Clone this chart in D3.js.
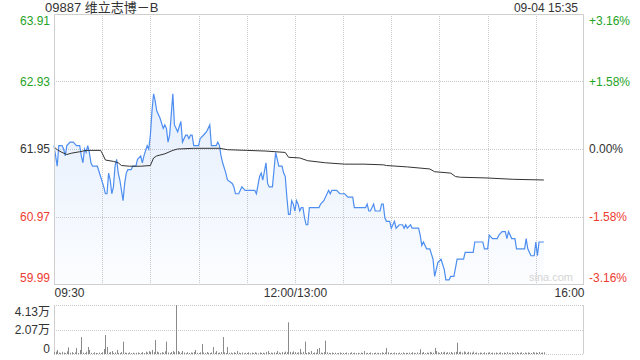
<!DOCTYPE html>
<html>
<head>
<meta charset="utf-8">
<script src="https://cdn.jsdelivr.net/npm/d3@7"></script>
<style>
body { margin: 0; background: #fff; }
svg text { font-family: "Liberation Sans Narrow", "Arial Narrow", "Liberation Sans", Arial, "Noto Sans CJK SC", sans-serif; font-size: 12px; }
</style>
</head>
<body>
<svg id="chart" width="640" height="360"></svg>
<script>
var title = "09887 维立志博－B";
var stamp = "09-04 15:35";
var prevClose = 61.95;
var priceTicks = [59.99, 60.97, 61.95, 62.93, 63.91];
var pctTicks = ["-3.16%", "-1.58%", "0.00%", "+1.58%", "+3.16%"];
var timeLabels = ["09:30", "12:00/13:00", "16:00"];
var timeLabelMin = [0, 150, 330];
var volTicks = [0, 20.65, 41.3];            // thousand shares
var volTickLabels = ["0", "2.07万", "4.13万"];

// minutes since 09:30 with the lunch break removed (150 = 12:00/13:00)
var priceMin = [0,2,3,5,6,7,8,10,12,14,
    16,17,18,19,20,21,22,23,24,27,
    29,31,32,33,34,35,36,37,38,39,
    40,41,43,44,45,46,48,49,51,52,
    54,55,56,58,59,60,61,62,63,64,
    66,68,69,70,71,72,74,75,77,79,
    80,82,83,84,85,86,87,90,91,93,
    95,97,98,101,102,103,104,105,107,108,
    111,112,113,115,116,117,119,123,125,126,
    128,129,130,132,133,134,136,138,140,142,
    143,144,145,146,147,148,149,150,151,152,
    153,154,155,156,157,158,159,165,166,168,
    169,170,171,172,173,176,178,181,183,186,
    187,194,195,196,197,199,200,203,204,205,
    206,207,209,210,211,212,213,215,217,218,
    219,220,222,223,224,227,228,229,230,232,
    234,236,237,239,241,243,244,246,247,249,
    251,255,256,261,262,267,268,270,271,273,
    276,277,279,281,282,283,285,287,288,293,
    294,295,297,299,300,301,302,305];
var price = [62.00,61.70,62.00,62.00,61.95,61.85,62.00,62.05,62.05,62.00,
    62.00,61.85,61.75,61.95,61.90,62.00,61.90,61.75,61.70,61.70,
    61.55,61.40,61.30,61.30,61.60,61.50,61.30,61.40,61.70,61.80,
    61.60,61.50,61.20,61.45,61.60,61.65,61.65,61.70,61.70,61.80,
    61.85,61.75,61.85,62.00,61.95,62.15,62.50,62.75,62.65,62.50,
    62.40,62.25,62.30,62.25,62.05,62.15,62.75,62.30,62.20,62.35,
    62.05,62.15,62.15,62.10,62.15,62.15,62.00,62.00,62.10,62.15,
    62.20,62.30,62.00,62.00,62.05,62.00,61.85,61.75,61.60,61.50,
    61.45,61.40,61.30,61.30,61.35,61.40,61.35,61.35,61.35,61.30,
    61.55,61.60,61.50,61.75,61.45,61.40,61.40,61.90,61.70,61.70,
    61.60,61.55,61.25,61.00,61.00,61.20,61.15,61.05,61.20,61.15,
    61.05,61.10,61.10,60.95,60.85,60.85,61.10,61.10,61.15,61.20,
    61.25,61.30,61.35,61.30,61.35,61.35,61.30,61.30,61.25,61.25,
    61.10,61.10,61.15,61.05,61.05,61.15,61.05,61.05,61.15,61.15,
    60.95,60.90,60.90,60.80,60.85,60.90,60.80,60.85,60.85,60.80,
    60.85,60.80,60.85,60.80,60.80,60.80,60.70,60.55,60.60,60.50,
    60.50,60.35,60.10,60.30,60.35,60.20,60.05,60.05,60.10,60.10,
    60.35,60.35,60.45,60.45,60.60,60.60,60.50,60.50,60.70,60.65,
    60.65,60.70,60.75,60.75,60.65,60.75,60.65,60.65,60.50,60.50,
    60.65,60.50,60.40,60.40,60.60,60.40,60.60,60.60];

// average price line
var avgMin = [0,2,5,8,11,16,20,29,30,32,
    37,40,42,47,54,60,62,64,69,74,
    77,87,99,103,108,120,132,144,146,153,
    158,169,181,193,205,207,220,234,237,247,
    250,253,269,286,305];
var avgPrice = [61.98,61.94,61.90,61.87,61.89,61.91,61.93,61.93,61.89,61.79,
    61.77,61.75,61.71,61.70,61.70,61.71,61.82,61.85,61.88,61.93,
    61.95,61.96,61.96,61.96,61.94,61.93,61.92,61.90,61.83,61.82,
    61.78,61.75,61.73,61.73,61.72,61.71,61.69,61.66,61.62,61.60,
    61.55,61.54,61.53,61.51,61.50];

// volume per minute (index = minute), thousand shares
var volume = [1.5,2.0,3.4,1.2,0.9,1.8,1.1,0.8,2.2,5.6,
    1.0,1.6,0.7,1.3,5.1,0.9,3.4,14.3,1.2,0.8,
    1.9,5.9,3.4,1.0,0.6,1.4,0.9,0.7,1.2,0.8,
    1.5,4.2,16.0,5.9,1.1,1.7,2.5,0.9,1.3,3.4,
    1.0,0.8,1.6,10.4,1.2,0.9,0.7,1.4,0.8,1.1,
    0.6,1.0,1.3,0.7,0.9,1.5,0.8,2.0,1.2,2.4,
    1.8,3.4,1.5,11.8,2.0,1.4,0.9,1.6,1.1,2.2,
    10.4,1.3,0.8,1.7,2.5,1.5,41.3,2.5,1.6,1.0,
    2.5,1.2,0.7,1.5,0.9,1.3,1.1,1.8,3.4,1.0,
    0.8,1.4,8.4,1.2,0.9,1.7,1.0,0.8,1.3,5.9,
    1.1,2.5,0.9,1.2,1.6,14.3,1.4,0.8,5.9,1.0,
    1.2,0.7,1.5,0.9,2.5,1.1,0.8,1.3,0.6,1.0,
    0.9,1.4,0.7,1.2,0.8,1.5,1.0,0.6,1.3,0.9,
    1.1,0.7,1.6,2.5,0.8,1.2,0.9,1.4,1.0,2.5,
    1.3,0.8,1.7,1.1,2.0,1.5,26.7,1.8,1.2,2.2,
    1.6,1.0,1.4,4.2,1.1,1.8,10.4,0.9,1.5,1.2,
    2.5,0.8,1.3,1.0,4.2,5.1,1.2,0.9,1.6,11.2,
    1.4,1.0,0.7,1.2,0.8,1.1,0.6,0.9,1.3,0.7,
    1.0,0.8,1.2,0.6,0.9,1.4,0.7,1.1,0.8,1.0,
    0.6,1.2,0.9,2.5,0.7,1.0,0.8,1.3,0.6,0.9,
    1.1,0.7,1.0,0.8,1.4,0.9,1.2,5.1,1.5,0.8,
    1.0,0.7,1.2,0.9,0.6,1.1,0.8,1.3,0.7,1.0,
    0.9,1.2,0.8,1.5,1.0,0.7,1.3,0.9,4.0,1.1,
    1.6,0.8,1.2,1.0,1.8,1.3,1.1,5.1,2.5,1.4,
    0.9,1.6,1.2,1.9,1.0,1.5,1.3,1.7,0.9,1.4,
    1.8,9.5,1.6,2.0,1.2,2.2,1.5,1.0,1.8,1.3,
    1.1,2.0,0.9,1.3,0.8,1.2,1.0,0.7,1.4,0.9,
    1.1,1.5,0.8,1.2,0.9,1.3,0.7,1.0,1.4,0.8,
    1.2,0.9,1.5,1.0,0.7,1.3,0.9,1.1,1.6,0.8,
    1.0,1.4,0.7,1.2,0.9,1.3,1.0,0.8,1.5,1.1,
    1.3,0.9,1.7,1.0,1.2,1.4];

var GREEN = "#25a325", RED = "#ee3b30", DARK = "#333", GRID = "#cacaca";
var L = 54, R = 584, T = 14, B = 284, VT = 305, VB = 354;

var svg = d3.select("#chart");

var x = d3.scaleLinear().domain([0, 330]).range([L, R]);
var y = d3.scaleLinear().domain([59.99, 63.91]).range([B, T]);
var yPct = d3.scaleLinear().domain([-3.16, 3.16]).range([B, T]);
var vy = d3.scaleLinear().domain([0, 41.3]).range([VB, VT]);

function colorFor(v) {
    if (Math.abs(v - prevClose) < 0.005) return DARK;
    return v > prevClose ? GREEN : RED;
}

// gradient for the area
var grad = svg.append("defs").append("linearGradient")
    .attr("id", "fillGrad")
    .attr("gradientUnits", "userSpaceOnUse")
    .attr("x1", 0).attr("y1", T).attr("x2", 0).attr("y2", B);
grad.append("stop").attr("offset", "0%").attr("stop-color", "#4d8ef0").attr("stop-opacity", 0.2);
grad.append("stop").attr("offset", "100%").attr("stop-color", "#4d8ef0").attr("stop-opacity", 0.02);

// grid lines
var vGrid = d3.range(30, 330, 30);
svg.append("g").selectAll("line").data(vGrid).join("line")
    .attr("x1", d => Math.round(x(d)) + 0.5).attr("x2", d => Math.round(x(d)) + 0.5)
    .attr("y1", T).attr("y2", B)
    .attr("stroke", GRID).attr("stroke-dasharray", "1,1");
svg.append("g").selectAll("line").data(priceTicks.slice(1, 4)).join("line")
    .attr("x1", L).attr("x2", R)
    .attr("y1", d => Math.round(y(d)) + 0.5).attr("y2", d => Math.round(y(d)) + 0.5)
    .attr("stroke", GRID).attr("stroke-dasharray", "1,1");

// area + lines
var pts = priceMin.map(function (m, i) { return [m, price[i]]; });
var area = d3.area().x(d => x(d[0])).y0(B).y1(d => y(d[1]));
var line = d3.line().x(d => x(d[0])).y(d => y(d[1]));
svg.append("path").datum(pts).attr("d", area).attr("fill", "url(#fillGrad)");
svg.append("path").datum(pts).attr("d", line)
    .attr("fill", "none").attr("stroke", "#4d8ef0").attr("stroke-width", 1.2);

var avgPts = avgMin.map(function (m, i) { return [m, avgPrice[i]]; });
svg.append("path").datum(avgPts).attr("d", line)
    .attr("fill", "none").attr("stroke", "#333").attr("stroke-width", 1);

// frame
svg.append("rect").attr("x", L + 0.5).attr("y", T + 0.5)
    .attr("width", R - L - 1).attr("height", B - T)
    .attr("fill", "none").attr("stroke", "#cfcfcf");

// left price axis
var gLeft = svg.append("g").attr("transform", "translate(" + L + ",0)")
    .call(d3.axisLeft(y).tickValues(priceTicks).tickSize(0).tickPadding(4).tickFormat(d3.format(".2f")));
gLeft.select(".domain").remove();
gLeft.selectAll("text")
    .attr("fill", d => colorFor(d))
    .attr("dy", (d, i) => i === 0 ? "-0.2em" : (i === priceTicks.length - 1 ? "0.85em" : "0.32em"));

// right percent axis
var gRight = svg.append("g").attr("transform", "translate(" + R + ",0)")
    .call(d3.axisRight(yPct).tickValues([-3.16, -1.58, 0, 1.58, 3.16]).tickSize(0).tickPadding(5)
        .tickFormat((d, i) => pctTicks[i]));
gRight.select(".domain").remove();
gRight.selectAll("text")
    .attr("fill", d => d === 0 ? DARK : (d > 0 ? GREEN : RED))
    .attr("dy", (d, i) => i === 0 ? "-0.2em" : (i === 4 ? "0.85em" : "0.32em"));

// time axis
var gTime = svg.append("g").attr("transform", "translate(0," + B + ")")
    .call(d3.axisBottom(x).tickValues(timeLabelMin).tickSize(0).tickPadding(4)
        .tickFormat((d, i) => timeLabels[i]));
gTime.select(".domain").remove();
gTime.selectAll("text").attr("fill", DARK)
    .attr("text-anchor", (d, i) => i === 0 ? "start" : (i === 2 ? "end" : "middle"));

// watermark
svg.append("text").attr("x", 573).attr("y", 281).attr("text-anchor", "end")
    .attr("fill", "#d4d4d4").style("font-size", "11px").text("sina.com");

// volume panel
svg.append("g").selectAll("line").data(volTicks).join("line")
    .attr("x1", L).attr("x2", R)
    .attr("y1", d => Math.round(vy(d)) + 0.5).attr("y2", d => Math.round(vy(d)) + 0.5)
    .attr("stroke", GRID).attr("stroke-dasharray", "1,1");
svg.append("line").attr("x1", L + 0.5).attr("x2", L + 0.5).attr("y1", VT).attr("y2", VB)
    .attr("stroke", "#cfcfcf");
svg.append("line").attr("x1", R - 0.5).attr("x2", R - 0.5).attr("y1", VT).attr("y2", VB)
    .attr("stroke", "#cfcfcf");

svg.append("g").selectAll("line").data(volume).join("line")
    .attr("x1", (d, i) => Math.round(x(i)) + 0.5).attr("x2", (d, i) => Math.round(x(i)) + 0.5)
    .attr("y1", vy(0)).attr("y2", d => vy(d))
    .attr("stroke", "#8a8a8a").attr("stroke-width", 1);

var gVol = svg.append("g").attr("transform", "translate(" + L + ",0)")
    .call(d3.axisLeft(vy).tickValues(volTicks).tickSize(0).tickPadding(4)
        .tickFormat((d, i) => volTickLabels[i]));
gVol.select(".domain").remove();
gVol.selectAll("text").attr("fill", DARK)
    .attr("dy", (d, i) => i === 0 ? "-0.1em" : (i === 2 ? "0.9em" : "0.32em"));

// header
svg.append("text").attr("x", 45).attr("y", 12).attr("fill", DARK)
    .style("font-size", "13px").text(title);
svg.append("text").attr("x", 578).attr("y", 12).attr("text-anchor", "end")
    .attr("fill", DARK).style("font-size", "12px").text(stamp);
</script>
</body>
</html>
